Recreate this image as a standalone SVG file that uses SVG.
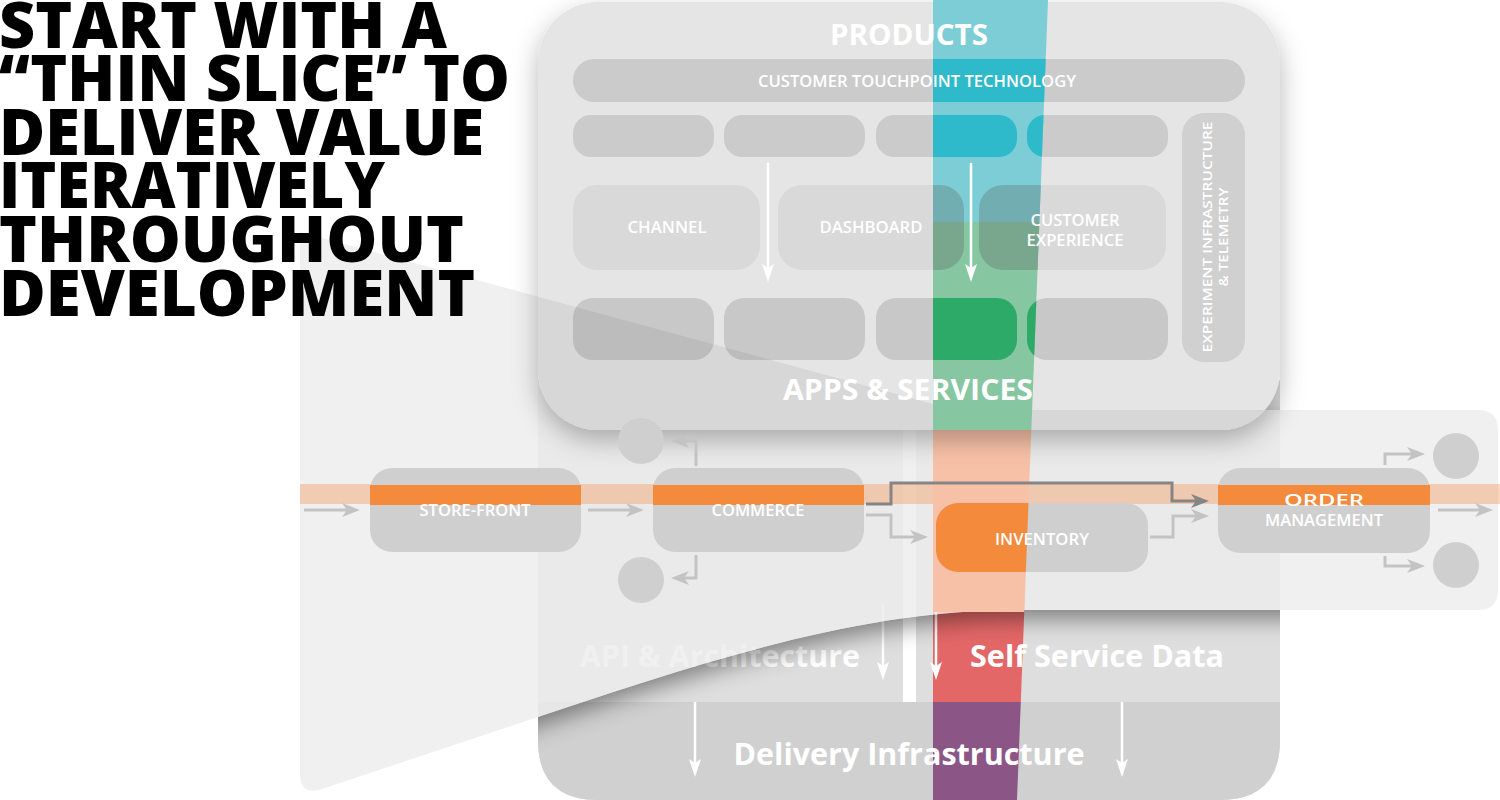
<svg xmlns="http://www.w3.org/2000/svg" width="1500" height="800" viewBox="0 0 1500 800">
<defs>
<style>
.t{font-family:"Open Sans","Liberation Sans",sans-serif;fill:#fff;text-anchor:middle}
.sm{font-size:16.5px;font-weight:600}
.big{font-size:30px;font-weight:700}
.title{font-family:"Open Sans","Liberation Sans",sans-serif;font-weight:800;font-size:64px;fill:#000}
.g{fill:none;stroke:#c3c3c3;stroke-width:3}
.d{fill:none;stroke:#858585;stroke-width:3}
.w{fill:none;stroke:#fff;stroke-width:2.5}
.node{fill:#cfcfcf}
.or{fill:#f38a3c}
.pr{fill:#000;fill-opacity:.11}
.pm{fill:#000;fill-opacity:.05}
.pb{fill:#000;fill-opacity:.125}
</style>
<marker id="ag" viewBox="0 0 18 14" markerWidth="18" markerHeight="14" refX="9" refY="7" orient="auto" markerUnits="userSpaceOnUse"><path d="M0,0 L18,7 L0,14 L5,7 Z" fill="#c3c3c3"/></marker>
<marker id="ad" viewBox="0 0 18 14" markerWidth="18" markerHeight="14" refX="9" refY="7" orient="auto" markerUnits="userSpaceOnUse"><path d="M0,0 L18,7 L0,14 L5,7 Z" fill="#858585"/></marker>
<marker id="aw" viewBox="0 0 18 12" markerWidth="18" markerHeight="12" refX="9" refY="6" orient="auto" markerUnits="userSpaceOnUse"><path d="M0,0 L18,6 L0,12 L4,6 Z" fill="#fff"/></marker>
<clipPath id="vband"><polygon points="933,0 1048,0 1017,800 933,800"/></clipPath>
<clipPath id="panel"><rect x="538" y="2" width="742" height="428" rx="60"/></clipPath>
<clipPath id="baseClip"><path d="M538,380 H1280 V740 Q1280,800 1220,800 H598 Q538,800 538,740 Z"/></clipPath>
<path id="wedgeShape" d="M300,232 L955,410 H1478 Q1498,410 1498,430 V590 Q1498,610 1478,610 H1010 C850,612 700,663 520,723 L322,789 Q300,796 300,774 Z"/>
<mask id="outWedge" maskUnits="userSpaceOnUse" x="0" y="0" width="1500" height="800"><rect width="1500" height="800" fill="#fff"/><use href="#wedgeShape" fill="#000"/></mask>
<filter id="blur" x="-20%" y="-20%" width="140%" height="140%"><feGaussianBlur stdDeviation="11"/></filter>
<filter id="pshadow" x="-10%" y="-10%" width="120%" height="130%"><feDropShadow dx="0" dy="10" stdDeviation="13" flood-color="#000" flood-opacity="0.28"/></filter>
<linearGradient id="midg" gradientUnits="userSpaceOnUse" x1="0" y1="185" x2="0" y2="270"><stop offset="0.435" stop-color="#72adb2"/><stop offset="0.435" stop-color="#79a78d"/></linearGradient>
</defs>

<!-- base platform: API / Self Service Data / Delivery Infrastructure -->
<g id="base">
<path d="M538,380 H1280 V740 Q1280,800 1220,800 H598 Q538,800 538,740 Z" fill="#dedede"/>
<rect x="538" y="702" width="742" height="98" fill="#d0d0d0" clip-path="url(#baseClip)"/>
<rect x="903" y="426" width="13" height="276" fill="#fff"/>
<polygon points="933,590 1025.1,590 1020.8,702 933,702" fill="#e36767"/>
<polygon points="933,702 1020.8,702 1017,800 933,800" fill="#8b5585"/>
<text class="t big" x="720" y="667" textLength="280" lengthAdjust="spacingAndGlyphs">API &amp; Architecture</text>
<text class="t big" x="1097" y="667" textLength="254" lengthAdjust="spacingAndGlyphs">Self Service Data</text>
<text class="t big" x="909" y="765" textLength="351" lengthAdjust="spacingAndGlyphs">Delivery Infrastructure</text>
<path class="w" d="M883,605 V671" marker-end="url(#aw)"/>
<path class="w" d="M936,605 V671" marker-end="url(#aw)"/>
<path class="w" d="M695,702 V768" marker-end="url(#aw)"/>
<path class="w" d="M1122,702 V768" marker-end="url(#aw)"/>
</g>

<!-- shadow of the services layer onto the base -->
<g mask="url(#outWedge)"><g clip-path="url(#baseClip)"><use href="#wedgeShape" transform="translate(0,9)" fill="#000" fill-opacity=".42" filter="url(#blur)"/></g></g>

<!-- services layer (wedge + right panel) -->
<use id="servicesLayer" href="#wedgeShape" fill="#ececec" fill-opacity=".8"/>

<!-- horizontal thin slice -->
<rect x="300" y="484" width="1200" height="20" fill="#f39a5e" fill-opacity=".42"/>
<!-- vertical slice in services layer -->
<polygon points="933,415 1031.9,415 1024.3,612 933,612" fill="#f7c1a7"/>

<!-- products panel -->
<g id="products">
<rect x="538" y="2" width="742" height="428" rx="60" fill="#e5e5e5" filter="url(#pshadow)"/>
<use href="#wedgeShape" fill="#000" fill-opacity=".06" clip-path="url(#panel)"/>
<rect class="pr" x="573" y="59" width="672" height="43" rx="21"/>
<rect class="pr" x="573" y="115" width="141" height="42" rx="18"/>
<rect class="pr" x="724" y="115" width="141" height="42" rx="18"/>
<rect class="pr" x="876" y="115" width="141" height="42" rx="18"/>
<rect class="pr" x="1027" y="115" width="141" height="42" rx="18"/>
<rect x="1182" y="113" width="63" height="249" rx="22" fill="#000" fill-opacity=".09"/>
<rect class="pm" x="573" y="185" width="187" height="85" rx="24"/>
<rect class="pm" x="778" y="185" width="186" height="85" rx="24"/>
<rect class="pm" x="979" y="185" width="187" height="85" rx="24"/>
<rect class="pb" x="573" y="298" width="141" height="62" rx="20"/>
<rect class="pb" x="724" y="298" width="141" height="62" rx="20"/>
<rect class="pb" x="876" y="298" width="141" height="62" rx="20"/>
<rect class="pb" x="1027" y="298" width="141" height="62" rx="20"/>
</g>

<!-- vertical thin slice over products -->
<g id="slice" clip-path="url(#vband)">
<rect x="933" y="0" width="120" height="222" fill="#7dcdd6"/>
<rect x="933" y="222" width="120" height="208" fill="#86c7a1"/>
<rect x="573" y="59" width="672" height="43" rx="21" fill="#2fbacb"/>
<rect x="876" y="115" width="141" height="42" rx="18" fill="#2fbacb"/>
<rect x="1027" y="115" width="141" height="42" rx="18" fill="#2fbacb"/>
<rect x="778" y="185" width="186" height="85" rx="24" fill="url(#midg)"/>
<rect x="979" y="185" width="187" height="85" rx="24" fill="url(#midg)"/>
<rect x="876" y="298" width="141" height="62" rx="20" fill="#2eaa68"/>
<rect x="1027" y="298" width="141" height="62" rx="20" fill="#2eaa68"/>
</g>

<g id="productLabels">
<text class="t" x="909" y="45" font-size="28" font-weight="700" textLength="158" lengthAdjust="spacingAndGlyphs">PRODUCTS</text>
<text class="t" x="917" y="87" font-size="16" font-weight="600" textLength="318" lengthAdjust="spacingAndGlyphs">CUSTOMER TOUCHPOINT TECHNOLOGY</text>
<text class="t" x="667" y="233" font-size="17" font-weight="600" textLength="79" lengthAdjust="spacingAndGlyphs">CHANNEL</text>
<text class="t" x="871" y="233" font-size="17" font-weight="600" textLength="103" lengthAdjust="spacingAndGlyphs">DASHBOARD</text>
<text class="t" x="1075" y="226" font-size="17" font-weight="600" textLength="89" lengthAdjust="spacingAndGlyphs">CUSTOMER</text>
<text class="t" x="1075" y="246" font-size="17" font-weight="600" textLength="97" lengthAdjust="spacingAndGlyphs">EXPERIENCE</text>
<text class="t" font-size="13" font-weight="600" x="1212" y="237" transform="rotate(-90 1212 237)" textLength="231" lengthAdjust="spacingAndGlyphs">EXPERIMENT INFRASTRUCTURE</text>
<text class="t" font-size="13" font-weight="600" x="1228" y="237" transform="rotate(-90 1228 237)" textLength="99" lengthAdjust="spacingAndGlyphs">&amp; TELEMETRY</text>
<text class="t" x="908" y="400" font-size="29" font-weight="700" textLength="250" lengthAdjust="spacingAndGlyphs">APPS &amp; SERVICES</text>
<path class="w" d="M768,163 V273" marker-end="url(#aw)"/>
<path class="w" d="M971,163 V273" marker-end="url(#aw)"/>
</g>

<!-- services row nodes -->
<g id="n-storefront">
<rect class="node" x="370" y="468" width="211" height="84" rx="22"/>
<rect class="or" x="370" y="485" width="211" height="20"/>
<text class="t sm" x="475" y="516" textLength="111" lengthAdjust="spacingAndGlyphs">STORE-FRONT</text>
</g>
<g id="n-commerce">
<rect class="node" x="653" y="468" width="211" height="84" rx="22"/>
<rect class="or" x="653" y="485" width="211" height="20"/>
<text class="t sm" x="758" y="516" textLength="93" lengthAdjust="spacingAndGlyphs">COMMERCE</text>
</g>
<g id="n-inventory">
<rect class="node" x="936" y="503" width="212" height="69" rx="22"/>
<rect class="or" x="936" y="503" width="212" height="69" rx="22" clip-path="url(#vband)"/>
<text class="t sm" x="1042" y="545" textLength="94" lengthAdjust="spacingAndGlyphs">INVENTORY</text>
</g>
<g id="n-order">
<rect class="node" x="1218" y="468" width="212" height="85" rx="22"/>
<rect class="or" x="1218" y="485" width="212" height="20"/>
<text class="t sm" x="1324" y="506" textLength="80" lengthAdjust="spacingAndGlyphs">ORDER</text>
<text class="t sm" x="1324" y="526" textLength="118" lengthAdjust="spacingAndGlyphs">MANAGEMENT</text>
</g>
<g id="n-circles">
<circle class="node" cx="641" cy="441" r="23"/>
<circle class="node" cx="641" cy="580" r="23"/>
<circle class="node" cx="1456" cy="456" r="23"/>
<circle class="node" cx="1456" cy="565" r="23"/>
</g>

<g id="connectors">
<path class="g" d="M304,510 H351" marker-end="url(#ag)"/>
<path class="g" d="M588,510 H635" marker-end="url(#ag)"/>
<path class="g" d="M696,466 V441 H680" marker-end="url(#ag)"/>
<path class="g" d="M696,555 V578 H680" marker-end="url(#ag)"/>
<path class="g" d="M866,515 H891 V537 H919" marker-end="url(#ag)"/>
<path class="g" d="M1150,537 H1173 V516 H1200" marker-end="url(#ag)"/>
<path class="g" d="M1438,510 H1484" marker-end="url(#ag)"/>
<path class="g" d="M1385,465 V454 H1416" marker-end="url(#ag)"/>
<path class="g" d="M1385,556 V566 H1416" marker-end="url(#ag)"/>
<path class="d" d="M866,504 H891 V483 H1172 V501 H1200" marker-end="url(#ad)"/>
</g>

<g id="title">
<text class="title" x="-1" y="48" textLength="448" lengthAdjust="spacingAndGlyphs">START WITH A</text>
<text class="title" x="-1" y="101" textLength="511" lengthAdjust="spacingAndGlyphs">“THIN SLICE” TO</text>
<text class="title" x="-1" y="155" textLength="485" lengthAdjust="spacingAndGlyphs">DELIVER VALUE</text>
<text class="title" x="-1" y="208" textLength="386" lengthAdjust="spacingAndGlyphs">ITERATIVELY</text>
<text class="title" x="-1" y="262" textLength="465" lengthAdjust="spacingAndGlyphs">THROUGHOUT</text>
<text class="title" x="-1" y="316" textLength="476" lengthAdjust="spacingAndGlyphs">DEVELOPMENT</text>
</g>
</svg>
